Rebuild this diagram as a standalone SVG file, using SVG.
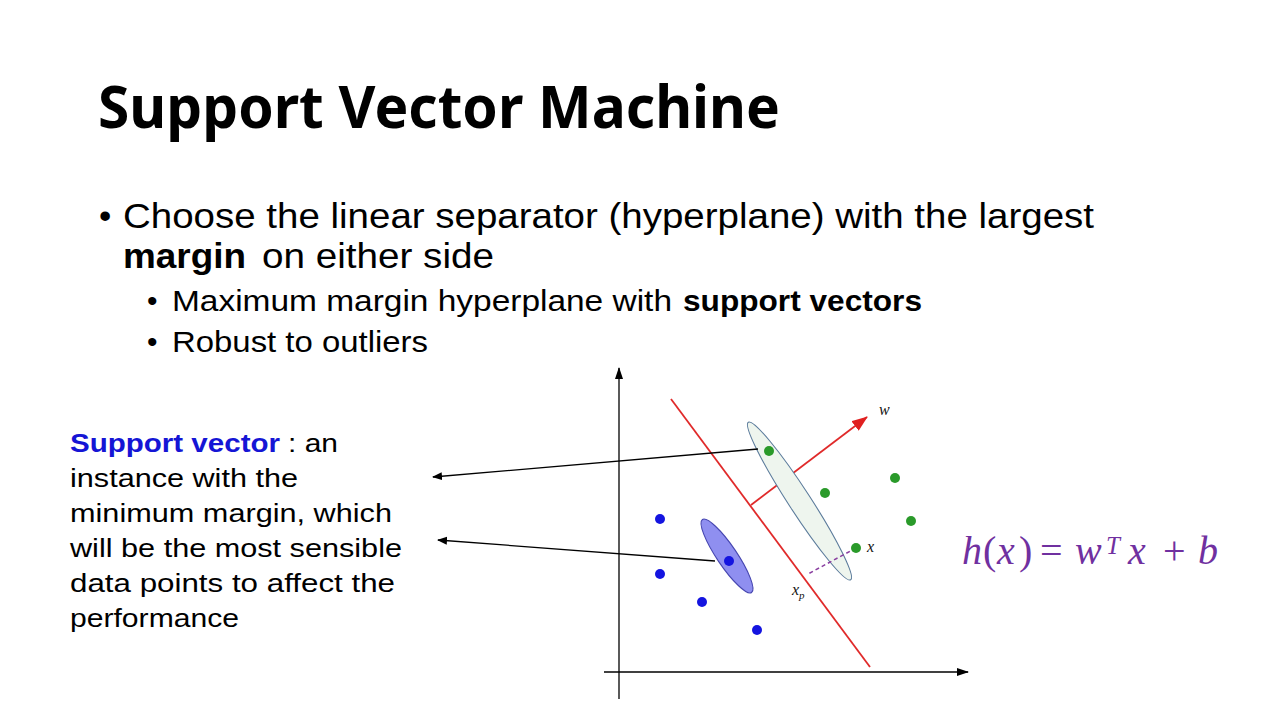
<svg xmlns="http://www.w3.org/2000/svg" width="1280" height="720" viewBox="0 0 1280 720">
<style>
.t{font-family:"Liberation Sans",Arial,sans-serif;fill:#000}
.h{font-family:"Noto Sans","Open Sans","Liberation Sans",sans-serif;fill:#000}
.b{font-weight:bold}
.m{font-family:"Liberation Serif","DejaVu Serif",serif;font-style:italic;fill:#111;font-size:16px}
.f{font-family:"Liberation Serif","DejaVu Serif",serif;font-style:italic;fill:#7030a0;font-size:40px}
.fn{font-style:normal}
.axis{stroke:#000;stroke-width:1.3;fill:none}
.conn{stroke:#000;stroke-width:1.3;fill:none}
.gp{fill:#2a9a2a}
.bp{fill:#1414e0}
</style>
<defs>
<marker id="ah" viewBox="0 0 10 10" refX="9" refY="5" markerWidth="10" markerHeight="10" markerUnits="userSpaceOnUse" orient="auto">
<path d="M0,1 L10,5 L0,9 z" fill="#000"/>
</marker>
<marker id="axh" viewBox="0 0 12 10" refX="11" refY="5" markerWidth="12" markerHeight="10" markerUnits="userSpaceOnUse" orient="auto">
<path d="M0,1 L12,5 L0,9 z" fill="#000"/>
</marker>
<marker id="rh" viewBox="0 0 16 12" refX="15" refY="6" markerWidth="16" markerHeight="12" markerUnits="userSpaceOnUse" orient="auto">
<path d="M0,0 L16,6 L0,12 z" fill="#e02020"/>
</marker>
</defs>
<rect width="1280" height="720" fill="#fff"/>

<g id="title">
<text class="h b" x="98" y="128" font-size="60" textLength="682" lengthAdjust="spacingAndGlyphs">Support Vector Machine</text>
</g>

<g id="bullets">
<text class="t" x="99" y="228" font-size="35">•</text>
<text class="t" x="123" y="228" font-size="35" textLength="971" lengthAdjust="spacingAndGlyphs">Choose the linear separator (hyperplane) with the largest</text>
<text class="t b" x="123" y="268" font-size="35" textLength="123" lengthAdjust="spacingAndGlyphs">margin</text>
<text class="t" x="262" y="268" font-size="35" textLength="232" lengthAdjust="spacingAndGlyphs">on either side</text>
<text class="t" x="147" y="311" font-size="30">•</text>
<text class="t" x="172" y="311" font-size="30" textLength="500" lengthAdjust="spacingAndGlyphs">Maximum margin hyperplane with</text>
<text class="t b" x="683" y="311" font-size="30" textLength="239" lengthAdjust="spacingAndGlyphs">support vectors</text>
<text class="t" x="147" y="352" font-size="30">•</text>
<text class="t" x="172" y="352" font-size="30" textLength="256" lengthAdjust="spacingAndGlyphs">Robust to outliers</text>
</g>

<g id="note">
<text class="t b" x="70" y="452" font-size="26" style="fill:#1515d5" textLength="210" lengthAdjust="spacingAndGlyphs">Support vector</text>
<text class="t" x="288" y="452" font-size="26" textLength="50" lengthAdjust="spacingAndGlyphs">: an</text>
<text class="t" x="70" y="487" font-size="26" textLength="228" lengthAdjust="spacingAndGlyphs">instance with the</text>
<text class="t" x="70" y="522" font-size="26" textLength="322" lengthAdjust="spacingAndGlyphs">minimum margin, which</text>
<text class="t" x="70" y="557" font-size="26" textLength="332" lengthAdjust="spacingAndGlyphs">will be the most sensible</text>
<text class="t" x="70" y="592" font-size="26" textLength="325" lengthAdjust="spacingAndGlyphs">data points to affect the</text>
<text class="t" x="70" y="627" font-size="26" textLength="169" lengthAdjust="spacingAndGlyphs">performance</text>
</g>

<g id="plot">
<line class="axis" x1="619" y1="699" x2="619" y2="368" marker-end="url(#axh)"/>
<line class="axis" x1="604" y1="672" x2="968" y2="672" marker-end="url(#axh)"/>
<line x1="671" y1="399" x2="870" y2="667" stroke="#e02a2a" stroke-width="1.8"/>
<line x1="751" y1="505" x2="867" y2="417" stroke="#e02a2a" stroke-width="1.8" marker-end="url(#rh)"/>
<ellipse cx="799.5" cy="501" rx="94" ry="11" transform="rotate(57 799.5 501)" fill="#eef5ee" stroke="#5b7b9b" stroke-width="1.1"/>
<ellipse cx="727" cy="556" rx="44" ry="10" transform="rotate(56 727 556)" fill="#8f8ff0" stroke="#4646b0" stroke-width="1.1"/>
<line x1="856" y1="548" x2="808" y2="574" stroke="#8a3fa0" stroke-width="1.5" stroke-dasharray="4,3"/>
<circle class="bp" cx="660" cy="519" r="5"/>
<circle class="bp" cx="660" cy="574" r="5"/>
<circle class="bp" cx="702" cy="602" r="5"/>
<circle class="bp" cx="757" cy="630" r="5"/>
<circle class="bp" cx="729" cy="561" r="5"/>
<circle class="gp" cx="769" cy="451" r="5"/>
<circle class="gp" cx="825" cy="493" r="5"/>
<circle class="gp" cx="895" cy="478" r="5"/>
<circle class="gp" cx="911" cy="521" r="5"/>
<circle class="gp" cx="856" cy="548" r="5"/>
<text class="m" x="879" y="415">w</text>
<text class="m" x="867" y="552">x</text>
<text class="m" x="792" y="595">x<tspan font-size="11" dy="4">p</tspan></text>
</g>

<g id="formula">
<text class="f" y="564"><tspan x="962">h</tspan><tspan class="fn" x="983">(</tspan><tspan x="997">x</tspan><tspan class="fn" x="1019">)</tspan><tspan class="fn" x="1040">=</tspan><tspan x="1075">w</tspan><tspan x="1106" y="554" font-size="25">T</tspan><tspan x="1128" y="564">x</tspan><tspan class="fn" x="1163">+</tspan><tspan x="1198">b</tspan></text>
</g>

<g id="connectors">
<line class="conn" x1="758" y1="449" x2="433" y2="477" marker-end="url(#ah)"/>
<line class="conn" x1="715" y1="561" x2="438" y2="540" marker-end="url(#ah)"/>
</g>
</svg>
